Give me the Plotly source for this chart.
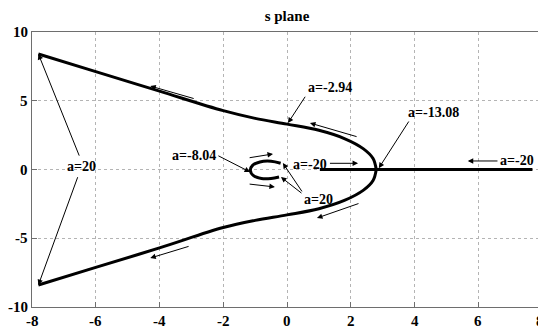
import plotly.graph_objects as go

# root locus branches
upper_x = [-7.8, -6.0, -4.0, -2.0, -1.0, 0.0, 1.0, 1.8, 2.4, 2.7, 2.8]
upper_y = [8.4, 7.12, 5.7, 4.28, 3.72, 3.3, 2.85, 2.25, 1.5, 0.8, 0.0]
lower_x = [-7.8, -6.0, -4.0, -2.0, -1.0, 0.0, 1.0, 1.8, 2.4, 2.7, 2.8]
lower_y = [-8.4, -7.12, -5.7, -4.22, -3.7, -3.3, -2.85, -2.25, -1.5, -0.8, 0.0]
real_x = [1.03, 7.7]
real_y = [0.0, 0.0]
loop_x = [-0.2, -0.5, -0.85, -1.08, -1.15, -1.05, -0.8, -0.5, -0.25]
loop_y = [0.45, 0.6, 0.55, 0.3, -0.05, -0.45, -0.65, -0.65, -0.55]

xticks = [-8, -6, -4, -2, 0, 2, 4, 6, 8]
yticks = [-10, -5, 0, 5, 10]

font = dict(family="Liberation Serif", size=14, color="black", weight="bold")
tickfont = dict(family="Liberation Serif", size=15, color="black", weight="bold")

fig = go.Figure()
for xs, ys in [(upper_x, upper_y), (lower_x, lower_y), (real_x, real_y), (loop_x, loop_y)]:
    fig.add_trace(go.Scatter(x=xs, y=ys, mode="lines", line=dict(color="black", width=3, shape="spline"),
                             showlegend=False, hoverinfo="skip"))

# labels: text, x, y, anchor
labels = [
    ("a=20", -6.45, 0.25, "center"),
    ("a=-2.94", 1.35, 6.0, "center"),
    ("a=-13.08", 4.6, 4.15, "center"),
    ("a=-20", 7.8, 0.62, "right"),
    ("a=-20", 0.72, 0.4, "center"),
    ("a=-8.04", -2.92, 1.05, "center"),
    ("a=20", 1.0, -2.2, "center"),
]
for txt, x, y, anc in labels:
    fig.add_annotation(x=x, y=y, text=txt, showarrow=False, font=font, xanchor=anc)

# arrows: tail x, tail y, head x, head y
arrows = [
    (-6.5, 0.9, -7.8, 8.4),
    (-6.55, -0.45, -7.8, -8.4),
    (0.6, 5.4, 0.03, 3.38),
    (3.85, 3.6, 2.88, 0.1),
    (6.65, 0.62, 5.67, 0.62),
    (1.3, 0.45, 2.23, 0.45),
    (-2.2, 1.05, -1.16, -0.18),
    (0.5, -1.7, -0.13, 0.47),
    (0.5, -1.8, -0.19, -0.55),
    (-2.88, 5.13, -4.29, 6.07),
    (2.23, 2.36, 0.72, 3.38),
    (2.29, -2.44, 0.94, -3.53),
    (-3.04, -5.56, -4.29, -6.44),
    (-1.22, 0.84, -0.44, 1.13),
    (-1.22, -1.05, -0.38, -1.27),
]
for tx, ty, hx, hy in arrows:
    fig.add_annotation(x=hx, y=hy, ax=tx, ay=ty, xref="x", yref="y", axref="x", ayref="y",
                       text="", showarrow=True, arrowhead=2, arrowsize=1.1, arrowwidth=1,
                       arrowcolor="black", standoff=0, startstandoff=0)

# tick labels placed by hand so they sit like the MATLAB ones
for v in xticks:
    # the last label would spill past the page edge, so pin its right side instead
    anc, shift = ("right", 3) if v == xticks[-1] else ("center", 0)
    fig.add_annotation(x=(v + 8) / 16, y=0, xref="paper", yref="paper", text=str(v), showarrow=False,
                       font=tickfont, xanchor=anc, xshift=shift, yanchor="top", yshift=-5, borderpad=0)
for v in yticks:
    fig.add_annotation(x=0, y=(v + 10) / 20, xref="paper", yref="paper", text=str(v), showarrow=False,
                       font=tickfont, xanchor="right", yanchor="middle", xshift=-3, borderpad=0)

axis = dict(showline=True, mirror=True, linecolor="#6e6e6e", linewidth=1,
            showgrid=True, gridcolor="#b4b4b4", griddash="dot", gridwidth=1,
            zeroline=False, ticks="inside", ticklen=5, tickcolor="#6e6e6e",
            showticklabels=False, automargin=False)
fig.update_xaxes(range=[-8, 8], tickvals=xticks, **axis)
fig.update_yaxes(range=[-10, 10], tickvals=yticks, **axis)

# page body adds 8px around the figure, so the figure is 8px smaller than the window
fig.update_layout(
    width=538, height=321,
    margin=dict(l=24, r=4, t=24, b=22),
    paper_bgcolor="white", plot_bgcolor="white",
    title=dict(text="s plane", x=0.5, xref="paper", xanchor="center", y=1 - 8 / 321,
               yanchor="middle", font=tickfont, automargin=False),
)

fig.write_html("out.html")
